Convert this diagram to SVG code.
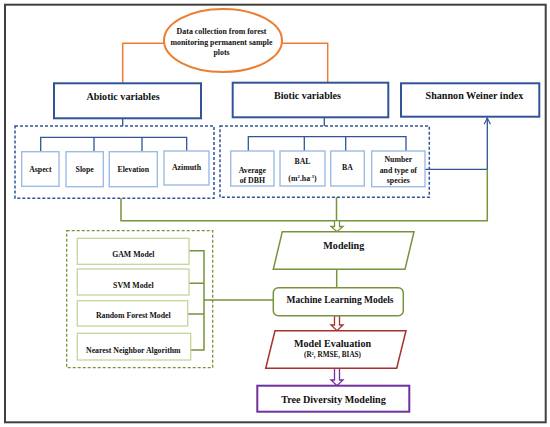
<svg xmlns="http://www.w3.org/2000/svg" width="550" height="427" viewBox="0 0 550 427">
<defs>
<style>
text{font-family:"Liberation Serif","Times New Roman",serif;font-weight:bold;fill:#111;text-anchor:middle}
.t10{font-size:10.1px}
.t9{font-size:9.5px}
.t8{font-size:7.9px}
.t7{font-size:7.8px}
.t6{font-size:7.2px}
.bluebox{fill:#fff;stroke:#2F5597;stroke-width:2}
.item{fill:#fff;stroke:#9DBBE3;stroke-width:1.4}
.bdash{fill:none;stroke:#2F5597;stroke-width:1.5;stroke-dasharray:3 2}
.gdash{fill:none;stroke:#77933C;stroke-width:1.3;stroke-dasharray:3 2}
.bline{fill:none;stroke:#2F5597;stroke-width:1.3}
.gline{fill:none;stroke:#77933C;stroke-width:1.5}
.oline{fill:none;stroke:#ED7D31;stroke-width:1.5}
.gitem{fill:#fff;stroke:#C3D69B;stroke-width:1.3}
</style>
<marker id="ab" viewBox="0 0 10 10" refX="9" refY="5" markerWidth="6" markerHeight="6" orient="auto"><path d="M1,1 L9,5 L1,9" fill="none" stroke="#2F5597" stroke-width="1.5"/></marker>
</defs>
<rect x="5" y="4.7" width="540.7" height="417.6" fill="#fff" stroke="#404040" stroke-width="2"/>

<g id="connectors">
<path class="oline" d="M164,43.3 H122.7 V83.3"/>
<path class="oline" d="M282,43.3 H327.7 V83"/>
<path class="bline" d="M122.7,118.3 V126"/>
<path class="bline" d="M324.3,117.3 V126"/>
<path class="bline" d="M40.7,151.7 V137.3 H186.7 V151 M94,137.3 V151.7 M142,137.3 V151.7"/>
<path class="bline" d="M248.3,151 V136.7 H406 V151 M304.3,136.7 V151 M345.7,136.7 V151"/>
<path class="bline" d="M425,169.3 H487.3 V118" marker-end="url(#ab)"/>
<path class="gline" d="M121,198.3 V220.7 H487.3 V169.3 M336.5,197.3 V220.7"/>
<path d="M334.5,220.7 V226.5 H331 L337,231.7 L343,226.5 H339.5 V220.7 Z" fill="#fff" stroke="#77933C" stroke-width="1.3"/>
<path class="gline" d="M336.7,269.3 V287.7"/>
<path class="gline" d="M189,250.7 H204 V350 H190.7 M189,283.3 H204 M187.7,314 H204 M204,300 H273.3"/>
<path d="M334.5,315.7 V325 H331 L337,330.7 L343,325 H339.5 V315.7 Z" fill="#fff" stroke="#A5322F" stroke-width="1.3"/>
<path d="M334.5,368.3 V380 H331 L337,385.7 L343,380 H339.5 V368.3 Z" fill="#fff" stroke="#7030A0" stroke-width="1.3"/>
</g>

<g id="data-collection">
<ellipse cx="223" cy="40.5" rx="59" ry="31.5" fill="#fff" stroke="#ED7D31" stroke-width="2"/>
<text class="t8" x="221.5" y="34">Data collection from forest</text>
<text class="t8" x="221.5" y="44.7">monitoring permanent sample</text>
<text class="t8" x="221.5" y="55.3">plots</text>
</g>

<g id="abiotic">
<rect class="bluebox" x="54" y="83.3" width="147" height="35"/>
<text class="t10" x="123" y="100">Abiotic variables</text>
</g>
<g id="biotic">
<rect class="bluebox" x="232.7" y="82.7" width="155.6" height="34.6"/>
<text class="t10" x="307.5" y="99">Biotic variables</text>
</g>
<g id="shannon">
<rect class="bluebox" x="401" y="83.3" width="138.3" height="33.4"/>
<text class="t10" x="474.5" y="99.3">Shannon Weiner index</text>
</g>

<g id="abiotic-group">
<rect class="bdash" x="15" y="126" width="199" height="72.3"/>
</g>
<g id="aspect"><rect class="item" x="21.7" y="151.7" width="37.3" height="34.6"/><text class="t7" x="40.4" y="171.7">Aspect</text></g>
<g id="slope"><rect class="item" x="66" y="151.7" width="37.3" height="35"/><text class="t7" x="84.7" y="171.7">Slope</text></g>
<g id="elevation"><rect class="item" x="109.3" y="151.7" width="48" height="35"/><text class="t7" x="133.3" y="172.3">Elevation</text></g>
<g id="azimuth"><rect class="item" x="164" y="151" width="45" height="34"/><text class="t7" x="186.5" y="170">Azimuth</text></g>

<g id="biotic-group">
<rect class="bdash" x="220" y="126" width="209.3" height="71.3"/>
</g>
<g id="avg-dbh"><rect class="item" x="230.7" y="151" width="43.3" height="35"/><text class="t7" x="252.3" y="172.7">Average</text><text class="t7" x="252.3" y="183.3">of DBH</text></g>
<g id="bal"><rect class="item" x="280" y="151" width="45" height="35"/><text class="t7" x="302.5" y="164">BAL</text><text class="t7" x="302.5" y="181">(m<tspan font-size="4.8" dy="-2.8">2</tspan><tspan dy="2.8">.ha</tspan><tspan font-size="4.8" dy="-2.8">-1</tspan><tspan dy="2.8">)</tspan></text></g>
<g id="ba"><rect class="item" x="330.7" y="151" width="33.6" height="35"/><text class="t7" x="347.5" y="170">BA</text></g>
<g id="species"><rect class="item" x="371.7" y="151" width="53.3" height="35.7"/><text class="t7" x="398.3" y="161.7">Number</text><text class="t7" x="398.3" y="172.7">and type of</text><text class="t7" x="398.3" y="183.3">species</text></g>

<g id="modeling">
<path d="M282.3,231.7 H414 L405,269.3 H273.3 Z" fill="#fff" stroke="#77933C" stroke-width="1.5"/>
<text class="t10" x="343.8" y="249">Modeling</text>
</g>

<g id="ml-models">
<rect x="273.3" y="287.7" width="130" height="28" rx="5" fill="#fff" stroke="#77933C" stroke-width="1.5"/>
<text class="t9" x="340" y="303.3">Machine Learning Models</text>
</g>

<g id="models-group">
<rect class="gdash" x="66.7" y="230.7" width="146" height="137"/>
</g>
<g id="gam"><rect class="gitem" x="77.3" y="238.3" width="111.7" height="26"/><text class="t7" x="133.3" y="256.7">GAM Model</text></g>
<g id="svm"><rect class="gitem" x="77.3" y="269" width="111.7" height="26"/><text class="t7" x="133.3" y="287.7">SVM Model</text></g>
<g id="rf"><rect class="gitem" x="77.3" y="300.7" width="110.4" height="25.3"/><text class="t7" x="133.3" y="317.7">Random Forest Model</text></g>
<g id="nn"><rect class="gitem" x="77.3" y="333.3" width="113.4" height="26.7"/><text class="t7" x="133.3" y="352.7">Nearest Neighbor Algorithm</text></g>

<g id="evaluation">
<path d="M275,330.7 H406 L396.7,368.3 H265.7 Z" fill="#fff" stroke="#A5322F" stroke-width="1.5"/>
<text class="t10" x="332.5" y="347.3">Model Evaluation</text>
<text class="t6" x="332.5" y="357.3">(R<tspan font-size="4.5" dy="-2.8">2</tspan><tspan dy="2.8">, RMSE, BIAS)</tspan></text>
</g>

<g id="tree-diversity">
<rect x="257.3" y="385.7" width="152" height="26" fill="#fff" stroke="#7030A0" stroke-width="2"/>
<text class="t10" x="333.5" y="402.7">Tree Diversity Modeling</text>
</g>
</svg>
